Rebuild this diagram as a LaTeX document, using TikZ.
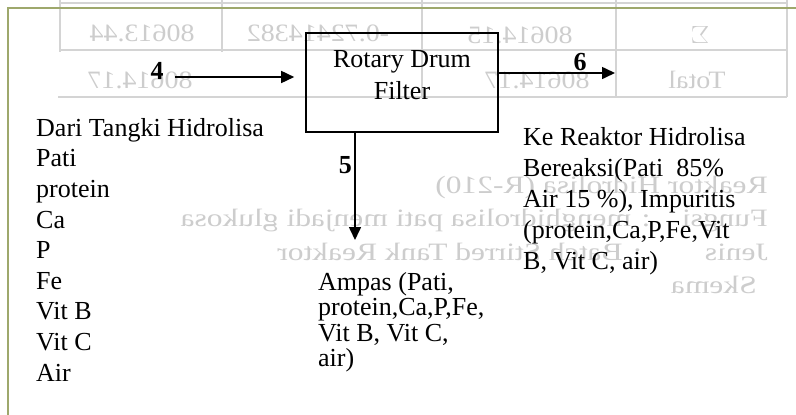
\documentclass[tikz,border=0pt]{standalone}
\usepackage{fontspec}
\setmainfont{Liberation Serif}
\usetikzlibrary{arrows.meta}
\definecolor{framecol}{RGB}{158,168,108}
\definecolor{ghostcol}{RGB}{205,205,205}
\definecolor{gridcol}{RGB}{212,212,212}
\tikzset{
  txt/.style={inner sep=0pt, font=\fontsize{26}{30.6}\selectfont, align=left},
  num/.style={inner sep=0pt, font=\fontsize{26}{30}\selectfont\bfseries},
  arr/.style={line width=1.6pt, -{Triangle[length=13pt,width=12pt]}},
  ghost/.style={inner sep=0pt, text=ghostcol, xscale=-1.12, font=\fontsize{25}{28}\selectfont},
  ghostline/.style={inner sep=0pt, text=ghostcol, xscale=-1.26, font=\fontsize{25}{28}\selectfont, anchor=base west},
  grid/.style={draw=gridcol, line width=1.2pt},
  framel/.style={draw=framecol, line width=1.6pt}
}
\begin{document}
\begin{tikzpicture}[x=1pt,y=-1pt]
\useasboundingbox (0,0) rectangle (796,415);
\fill[white] (0,0) rectangle (796,415);
% ghost table (bleed-through)
\draw[grid] (60,3) -- (787,3);
\draw[grid] (60,50) -- (787,50);
\draw[grid] (58,97) -- (787,97);
\draw[grid] (60,0) -- (60,52);
\draw[grid] (222,0) -- (222,52);
\draw[grid] (422,0) -- (422,97);
\draw[grid] (616,0) -- (616,97);
\draw[grid] (787,0) -- (787,97);
\node[ghost] (g1) at (142,33) {80613.44};
\node[ghost] (g2) at (318,33) {-0.72414382};
\node[ghost] (g3) at (520,35) {80614.15};
\node[ghost] (g4) at (700,35) {$\Sigma$};
\node[ghost] (g5) at (140,80) {80614.17};
\node[ghost] (g6) at (537,80) {80614.17};
\node[ghost] (g7) at (697,80) {Total};
\node[ghostline] (g8) at (768,193) {Reaktor Hidrolisa (R-210)};
\node[ghostline] (g9) at (768,226) {Fungsi\quad: menghidrolisa pati menjadi glukosa};
\node[ghostline] (g10) at (768,260) {Jenis\qquad: Batch Stirred Tank Reaktor};
\node[ghostline] (g11) at (757,293) {Skema};
% frame
\draw[framel] (8,415) -- (8,8) -- (796,8);
% main box
\node[draw, line width=1.6pt, minimum width=192pt, minimum height=99pt, inner sep=0pt] (drum) at (402,82.5) {};
\node[inner sep=0pt, font=\fontsize{26}{32}\selectfont, align=center] (drumtext) at (402,75) {Rotary Drum\\Filter};
% connectors
\coordinate (in4) at (175,77);
\coordinate (out6) at (615,73);
\coordinate (out5) at (355,240);
\draw[arr, shorten >=11pt] (in4) -- (in4 -| drum.west);
\draw[arr] (drum.east |- out6) -- (out6);
\draw[arr] (drum.south -| out5) -- (out5);
% stream numbers
\node[num, anchor=base] (n4) at (157,79) {4};
\node[num, anchor=base] (n6) at (580,70) {6};
\node[num, anchor=base east] (n5) at (352,173) {5};
% texts (base anchor = baseline of the last line)
\node[txt, anchor=base west] (left) at (36,381) {Dari Tangki Hidrolisa\\Pati\\protein\\Ca\\P\\Fe\\Vit B\\Vit C\\Air};
\node[txt, anchor=base west, font=\fontsize{26}{31}\selectfont] (right) at (523,269) {Ke Reaktor Hidrolisa\\Bereaksi(Pati\ \ 85\%\\Air 15 \%), Impuritis\\(protein,Ca,P,Fe,Vit\\B, Vit C, air)};
\node[txt, anchor=base west, font=\fontsize{26}{25.5}\selectfont] (ampas) at (318,366.5) {Ampas (Pati,\\protein,Ca,P,Fe,\\Vit B, Vit C,\\air)};
\end{tikzpicture}
\end{document}
